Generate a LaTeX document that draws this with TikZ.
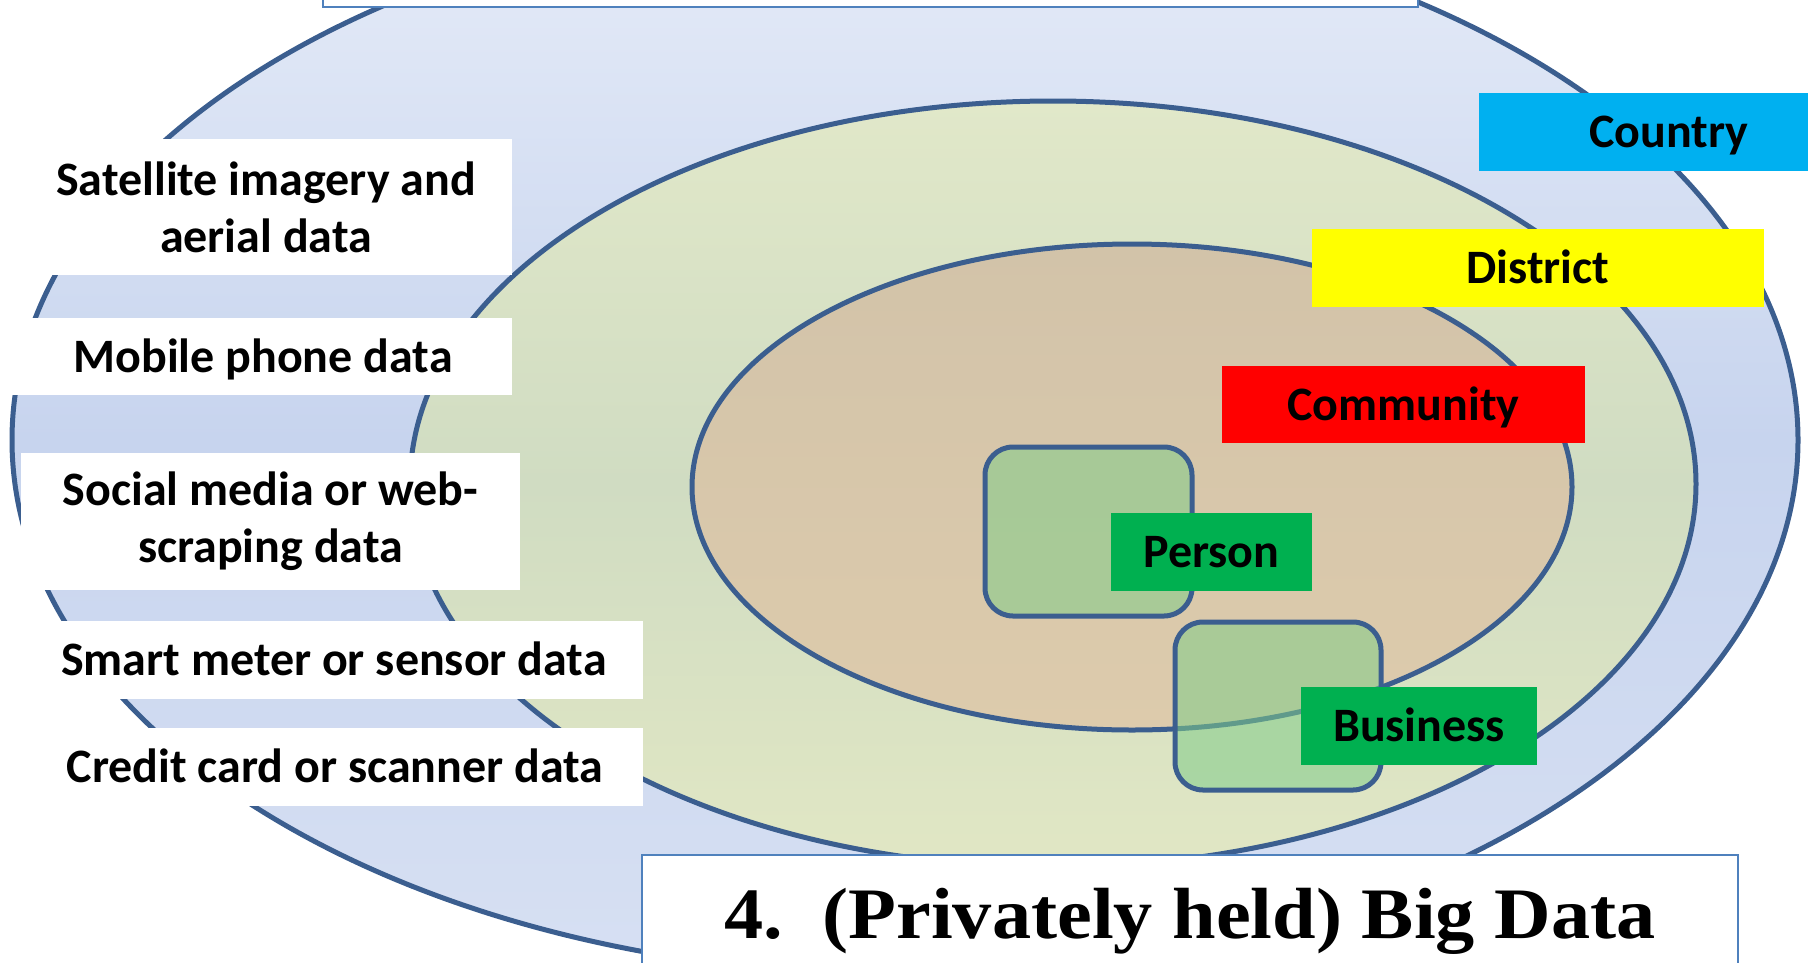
\documentclass[tikz,border=0pt]{standalone}
\usepackage{fontspec}
\setmainfont{Carlito}
\newfontfamily\titlefont{Liberation Serif}
\definecolor{ringline}{HTML}{3B5E8F}
\definecolor{boxline}{HTML}{4F81BD}
\definecolor{outerT}{HTML}{E6ECF8}
\definecolor{outerM}{HTML}{C7D4EE}
\definecolor{outerB}{HTML}{D7E0F3}
\definecolor{midT}{HTML}{E1E8C9}
\definecolor{midM}{HTML}{D0DCC2}
\definecolor{midB}{HTML}{E1E7C4}
\definecolor{innT}{HTML}{D2C3A9}
\definecolor{innB}{HTML}{DDCBAC}
\definecolor{rectfill}{HTML}{80CC88}
\definecolor{cCountry}{HTML}{00B0F0}
\definecolor{cDistrict}{HTML}{FFFF00}
\definecolor{cCommunity}{HTML}{FF0000}
\definecolor{cGreen}{HTML}{00B050}
\tikzset{
  ringstroke/.style={draw=ringline, line width=5pt},
  lab/.style={font=\fontsize{48}{57}\selectfont\bfseries, text=black, inner sep=0pt, align=center},
  oneline/.style={text height=31pt, text depth=0pt},
  tagbox/.style={lab, oneline, minimum height=78pt},
  leftbox/.style={lab, fill=white},
  unitbox/.style={draw=ringline, line width=5pt, rounded corners=28pt, fill=rectfill, fill opacity=0.55, inner sep=0pt},
  framebox/.style={draw=boxline, line width=2pt, fill=white, inner sep=0pt}
}
\begin{document}
\begin{tikzpicture}[x=1pt,y=-1pt]
\useasboundingbox (0,0) rectangle (1808,962);
% outer ellipse
\shade[top color=outerT, bottom color=outerB, middle color=outerM]
  (905,440) ellipse [x radius=893pt, y radius=535pt];
\draw[ringstroke] (905,440) ellipse [x radius=893pt, y radius=535pt];
% top box
\node[framebox, minimum width=1095pt, minimum height=60pt] (topbox) at (870.5,-23) {};
% middle ellipse
\shade[top color=midT, bottom color=midB, middle color=midM]
  (1053,484) ellipse [x radius=643pt, y radius=383pt];
\draw[ringstroke] (1053,484) ellipse [x radius=643pt, y radius=383pt];
% inner ellipse
\shade[top color=innT, bottom color=innB]
  (1132,487) ellipse [x radius=440pt, y radius=243pt];
\draw[ringstroke] (1132,487) ellipse [x radius=440pt, y radius=243pt];
% unit rectangles
\node[unitbox, minimum width=207pt, minimum height=169pt] (personrect) at (1088.5,531.5) {};
\node[unitbox, minimum width=206pt, minimum height=168pt] (businessrect) at (1278,706) {};
% level tags
\node[tagbox, fill=cCountry, minimum width=380pt] (country) at (1669,132) {Country};
\node[tagbox, fill=cDistrict, minimum width=452pt] (district) at (1538,268) {District};
\node[tagbox, fill=cCommunity, minimum width=363pt, minimum height=77pt] (community) at (1403.5,404.5) {Community};
\node[tagbox, fill=cGreen, minimum width=201pt] (person) at (1211.5,552) {Person};
\node[tagbox, fill=cGreen, minimum width=236pt] (business) at (1419,726) {Business};
% left data sources
\node[leftbox, minimum width=492pt, minimum height=136pt] (satellite) at (266,207) {Satellite imagery and\\aerial data};
\node[leftbox, oneline, minimum width=512pt, minimum height=77pt] (mobile) at (256,356.5) {\hspace*{14pt}Mobile phone data};
\node[leftbox, minimum width=499pt, minimum height=137pt] (social) at (270.5,521.5) {Social media or web-\\scraping data};
\node[leftbox, oneline, minimum width=618pt, minimum height=78pt] (smart) at (334,660) {Smart meter or sensor data};
\node[leftbox, oneline, minimum width=616pt, minimum height=78pt] (credit) at (335,767) {Credit card or scanner data};
% title
\node[framebox, minimum width=1096pt, minimum height=160pt] (titlebox) at (1190,935) {};
\node[anchor=base, inner sep=0pt, font=\titlefont\bfseries\fontsize{72.5}{80}\selectfont] (title) at (1190,938)
  {\scalebox{1.08}[1]{4.\ \ (Privately held) Big Data}};
\end{tikzpicture}
\end{document}
